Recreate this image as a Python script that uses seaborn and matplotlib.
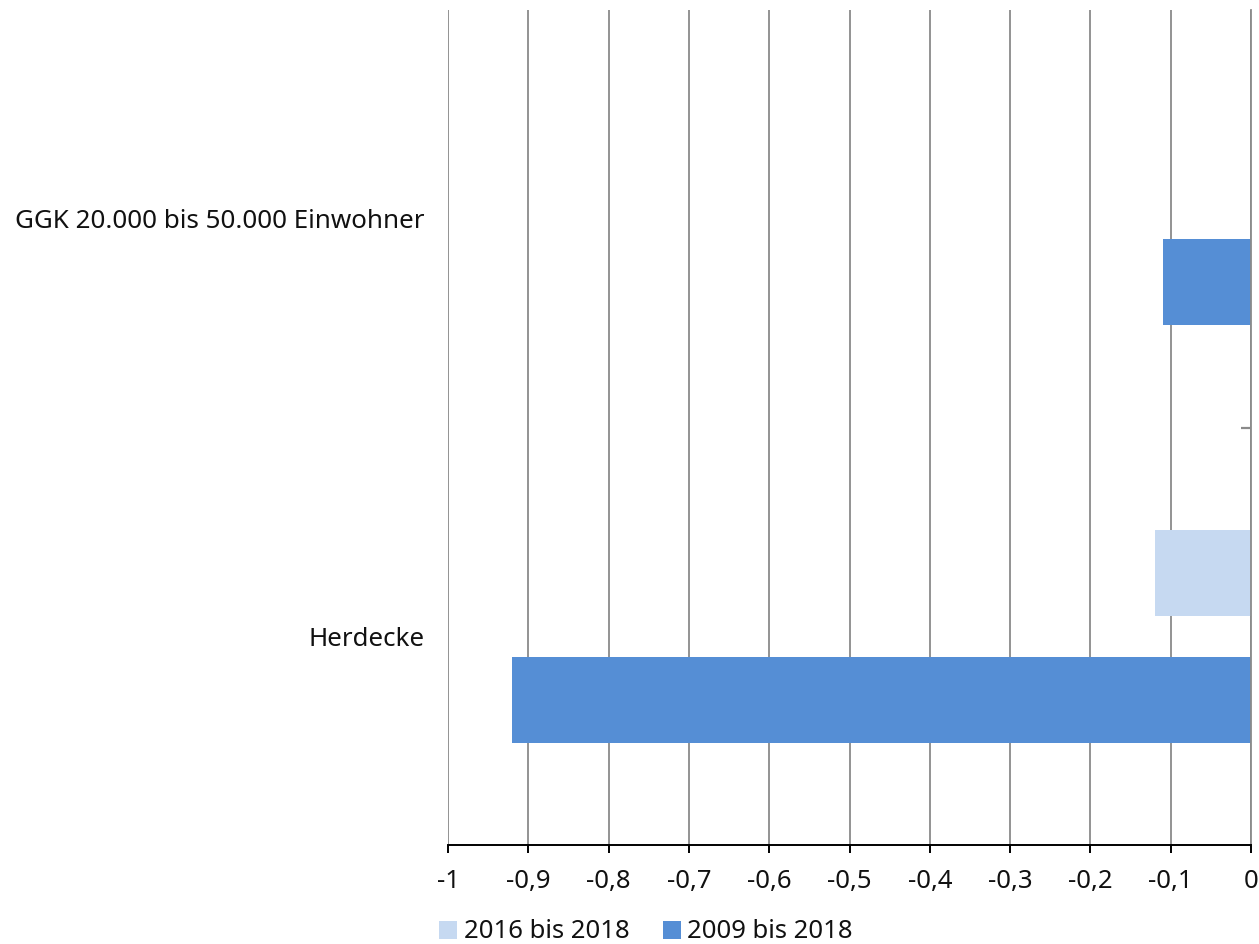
import matplotlib
matplotlib.use("Agg")
import matplotlib.pyplot as plt
import seaborn as sns
import pandas as pd
from matplotlib.ticker import FixedLocator, FuncFormatter
from matplotlib.patches import Patch

categories = ["GGK 20.000 bis 50.000 Einwohner", "Herdecke"]
series = ["2016 bis 2018", "2009 bis 2018"]
values_2016 = [0.0, -0.12]
values_2009 = [-0.11, -0.92]
colors = ["#C6D9F1", "#558ED5"]

rows = []
for c, v1, v2 in zip(categories, values_2016, values_2009):
    rows.append({"Kategorie": c, "Zeitraum": series[0], "Wert": v1})
    rows.append({"Kategorie": c, "Zeitraum": series[1], "Wert": v2})
df = pd.DataFrame(rows)

sns.set_style("white")
plt.rcParams["font.family"] = ["Noto Sans", "DejaVu Sans"]

fig = plt.figure(figsize=(12.59, 9.44), dpi=100)
ax = fig.add_axes([448 / 1259, 1 - 845 / 944, 803 / 1259, 835 / 944])

sns.barplot(data=df, y="Kategorie", x="Wert", hue="Zeitraum",
            order=categories, hue_order=series, palette=colors,
            orient="h", width=0.61, gap=0.325, ax=ax, legend=False,
            saturation=1, errorbar=None, linewidth=0)

ax.set_xlim(-1, 0)
ax.set_ylim(1.5, -0.5)
ax.xaxis.set_major_locator(FixedLocator([i / 10 for i in range(-10, 1)]))
ax.xaxis.set_major_formatter(FuncFormatter(
    lambda v, p: "0" if abs(v) < 1e-9 else ("-1" if abs(v + 1) < 1e-9 else f"{v:.1f}".replace(".", ","))))
ax.grid(axis="x", color="#8a8a8a", linewidth=1.3)
ax.set_axisbelow(True)
ax.set_xlabel("")
ax.set_ylabel("")

for s in ["top", "left"]:
    ax.spines[s].set_visible(False)
ax.spines["right"].set_visible(True)
ax.spines["right"].set_color("#8a8a8a")
ax.spines["right"].set_linewidth(1.3)
ax.spines["bottom"].set_color("black")
ax.spines["bottom"].set_linewidth(1.4)

ax.tick_params(axis="x", which="major", bottom=True, direction="out", length=6,
               width=1.4, color="black", labelsize=18.5, pad=11, labelcolor="#111111")
ax.tick_params(axis="y", which="major", left=False, right=False, length=0,
               labelsize=18.7, pad=17, labelcolor="#111111")
ax.yaxis.set_minor_locator(FixedLocator([0.5]))
ax.tick_params(axis="y", which="minor", left=False, right=True, direction="in",
               length=7, width=1.6, color="#8a8a8a")

handles = [Patch(facecolor=colors[0], edgecolor="none"),
           Patch(facecolor=colors[1], edgecolor="none")]
fig.legend(handles, series, loc="center", bbox_to_anchor=(646 / 1259, 1 - 932 / 944),
           ncol=2, frameon=False, fontsize=18.5, handlelength=0.7, handleheight=0.7,
           handletextpad=0.25, columnspacing=1.3, labelcolor="#111111")

fig.savefig("out.png", dpi=100)
